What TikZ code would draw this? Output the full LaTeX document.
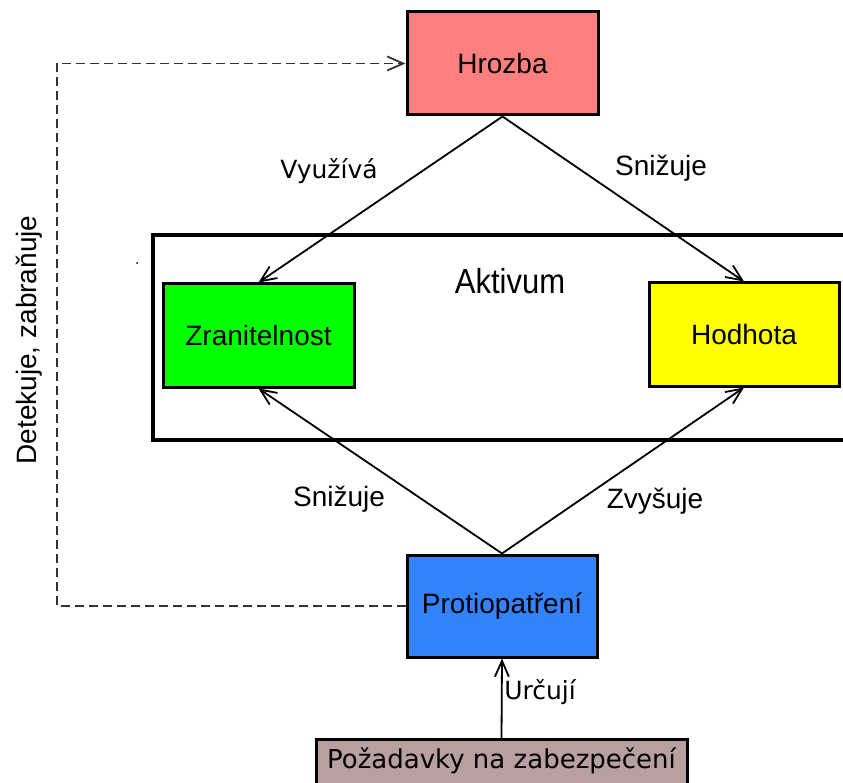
\documentclass[tikz,border=0pt]{standalone}
\usepackage{fontspec}
\setmainfont{Liberation Sans}
\newfontfamily\dejavu{DejaVu Sans}
\usetikzlibrary{arrows.meta}
\definecolor{hrozbac}{HTML}{FF7F7F}
\definecolor{zranc}{HTML}{00FF00}
\definecolor{hodc}{HTML}{FFFF00}
\definecolor{protc}{HTML}{3383FF}
\definecolor{pozc}{HTML}{B9A0A0}
\tikzset{
  box/.style={draw=black, line width=3pt, rectangle, inner sep=0pt, font=\fontsize{28}{32}\selectfont},
  conn/.style={line width=1.8pt, -{Straight Barb[length=16pt,width=14pt,line width=1.8pt]}},
  dconn/.style={conn, draw=black!80, dash pattern=on 9pt off 5pt},
  lbl/.style={font=\fontsize{28}{32}\selectfont, inner sep=0pt},
  dlbl/.style={font=\dejavu\fontsize{25}{30}\selectfont, inner sep=0pt}
}
\begin{document}
\begin{tikzpicture}[x=1pt,y=-1pt]
\useasboundingbox (0,0) rectangle (843,783);
% big Aktivum frame
\node (akt) [draw=black, line width=4pt, rectangle, minimum width=720pt, minimum height=205pt, inner sep=0pt] at (513,337.5) {};
\node (akttext) [lbl, font=\fontsize{31}{36}\selectfont, yscale=1.12, transform shape] at (510,281) {Aktivum};
% boxes
\node (hroz) [box, fill=hrozbac, minimum width=191pt, minimum height=103pt] at (502.5,63.5) {Hrozba};
\node (zran) [box, fill=zranc, minimum width=191pt, minimum height=103pt] at (258.5,335.5) {Zranitelnost};
\node (hod) [box, fill=hodc, minimum width=190pt, minimum height=103pt] at (744,334.5) {Hodhota};
\node (prot) [box, fill=protc, minimum width=190pt, minimum height=102pt] at (502,606) {Protiopatření};
\node (poz) [box, fill=pozc, minimum width=371pt, minimum height=90pt, anchor=north] at (501.5,738) {};
\node (poztext) [dlbl, font=\dejavu\fontsize{26}{30}\selectfont] at (501.5,761) {Požadavky na zabezpečení};
% connectors
\draw[conn] (hroz.south) -- (zran.north);
\draw[conn] (hroz.south) -- (hod.north);
\draw[conn] (prot.north) -- (zran.south);
\draw[conn] (prot.north) -- (hod.south);
\draw[conn] (poz.north) -- (prot.south);
\coordinate (dl) at (57,606);
\draw[dconn] (prot.west) -- (dl) |- (hroz.west);
% labels
\node (l1) [dlbl] at (329,171) {Využívá};
\node (l2) [lbl] at (661,168) {Snižuje};
\node (l3) [lbl] at (339,499) {Snižuje};
\node (l4) [lbl] at (655,501) {Zvyšuje};
\node (l5) [dlbl] at (540,692) {Určují};
\node (l6) [lbl, rotate=90] at (29,340) {Detekuje, zabraňuje};
% small dot
\fill (137,263) circle (1pt);
\end{tikzpicture}
\end{document}
